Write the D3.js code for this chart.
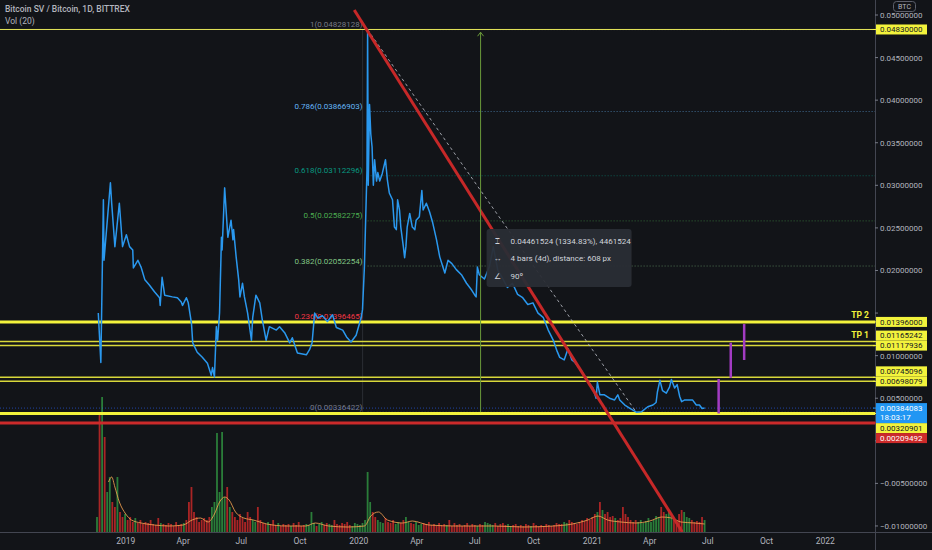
<!DOCTYPE html>
<html><head><meta charset="utf-8">
<script src="https://cdn.jsdelivr.net/npm/d3@7"></script>
<style>
html,body{margin:0;padding:0;background:#121418;}
svg{display:block;font-family:Roboto,"Liberation Sans",sans-serif;}
</style></head><body>
<svg id="c" width="932" height="550"></svg>
<script>
// ---------------- DATA ----------------
const priceDates = ["2018-11-19","2018-11-23","2018-11-27","2018-11-28","2018-12-08","2018-12-10","2018-12-15","2018-12-22","2018-12-27","2019-01-02","2019-01-07","2019-01-12","2019-01-13","2019-01-20","2019-01-25","2019-01-31","2019-02-07","2019-02-15","2019-02-23","2019-02-24","2019-02-27","2019-03-03","2019-03-15","2019-03-23","2019-03-29","2019-03-31","2019-04-06","2019-04-09","2019-04-14","2019-04-16","2019-04-23","2019-05-01","2019-05-09","2019-05-15","2019-05-17","2019-05-20","2019-05-23","2019-05-25","2019-05-28","2019-05-31","2019-06-01","2019-06-05","2019-06-10","2019-06-15","2019-06-18","2019-06-19","2019-06-23","2019-06-27","2019-06-29","2019-07-03","2019-07-06","2019-07-11","2019-07-17","2019-07-19","2019-07-24","2019-07-30","2019-08-03","2019-08-09","2019-08-14","2019-08-25","2019-08-30","2019-09-07","2019-09-15","2019-09-19","2019-09-27","2019-10-11","2019-10-16","2019-10-20","2019-10-24","2019-10-29","2019-11-05","2019-11-13","2019-11-21","2019-11-27","2019-12-07","2019-12-13","2019-12-20","2019-12-28","2020-01-05","2020-01-07","2020-01-10","2020-01-14","2020-01-15","2020-01-16","2020-01-18","2020-01-20","2020-01-22","2020-01-24","2020-01-26","2020-01-29","2020-01-31","2020-02-03","2020-02-07","2020-02-12","2020-02-15","2020-02-18","2020-02-23","2020-02-26","2020-02-29","2020-03-02","2020-03-05","2020-03-07","2020-03-11","2020-03-13","2020-03-15","2020-03-17","2020-03-21","2020-03-25","2020-03-29","2020-03-31","2020-04-05","2020-04-09","2020-04-11","2020-04-16","2020-04-21","2020-04-26","2020-05-02","2020-05-07","2020-05-12","2020-05-15","2020-05-20","2020-05-26","2020-06-02","2020-06-10","2020-06-18","2020-06-26","2020-07-01","2020-07-03","2020-07-05","2020-07-08","2020-07-16","2020-07-24","2020-07-30","2020-08-06","2020-08-14","2020-08-21","2020-08-29","2020-09-06","2020-09-14","2020-09-22","2020-09-30","2020-10-08","2020-10-16","2020-10-24","2020-11-01","2020-11-07","2020-11-11","2020-11-18","2020-11-24","2020-11-30","2020-12-05","2020-12-10","2020-12-16","2020-12-24","2021-01-02","2021-01-07","2021-01-09","2021-01-13","2021-01-20","2021-01-28","2021-02-05","2021-02-10","2021-02-13","2021-02-21","2021-03-01","2021-03-11","2021-03-19","2021-03-29","2021-04-06","2021-04-11","2021-04-13","2021-04-17","2021-04-21","2021-04-27","2021-05-02","2021-05-05","2021-05-10","2021-05-14","2021-05-18","2021-05-21","2021-05-26","2021-06-03","2021-06-07","2021-06-13","2021-06-18","2021-06-22","2021-06-26"];
const priceValues = [0.0150,0.0092,0.0283,0.0212,0.0303,0.0279,0.0228,0.0279,0.0228,0.0242,0.0228,0.0224,0.0203,0.0212,0.0204,0.0189,0.0183,0.0175,0.0168,0.0159,0.0192,0.0171,0.0169,0.0168,0.0163,0.0159,0.0168,0.0162,0.0138,0.0115,0.0104,0.0098,0.0091,0.0077,0.0086,0.0075,0.0134,0.0118,0.0150,0.0239,0.0224,0.0297,0.0239,0.0259,0.0236,0.0248,0.0216,0.0189,0.0169,0.0185,0.0169,0.0150,0.0118,0.0145,0.0171,0.0162,0.0142,0.0118,0.0134,0.0130,0.0134,0.0127,0.0115,0.0121,0.0103,0.0101,0.0107,0.0115,0.0150,0.0144,0.0147,0.0140,0.0148,0.0133,0.0130,0.0122,0.0116,0.0124,0.0145,0.0154,0.0205,0.0318,0.0483,0.0300,0.0395,0.0360,0.0345,0.0300,0.0330,0.0305,0.0315,0.0305,0.0314,0.0330,0.0306,0.0291,0.0283,0.0251,0.0248,0.0283,0.0271,0.0251,0.0228,0.0215,0.0228,0.0251,0.0267,0.0251,0.0248,0.0259,0.0263,0.0294,0.0271,0.0279,0.0269,0.0256,0.0236,0.0216,0.0204,0.0197,0.0212,0.0208,0.0201,0.0195,0.0185,0.0177,0.0171,0.0169,0.0204,0.0195,0.0190,0.0205,0.0228,0.0200,0.0190,0.0180,0.0185,0.0172,0.0168,0.0160,0.0162,0.0150,0.0145,0.0130,0.0118,0.0105,0.0098,0.0095,0.0108,0.0095,0.0092,0.0087,0.0081,0.0071,0.0062,0.0050,0.0069,0.0054,0.0054,0.0050,0.0048,0.0054,0.0048,0.0042,0.0038,0.00336,0.0034,0.0040,0.0042,0.0045,0.0057,0.0071,0.0059,0.0056,0.0063,0.0072,0.0062,0.0066,0.0052,0.0046,0.0048,0.0048,0.0048,0.0042,0.0042,0.0038,0.00384083];

// volume bars in 4-day buckets starting at volStart
const volStart = "2018-11-15";
const volStepDays = 4;
const volumes = [15,119,135,95,40,55,30,25,55,20, 15,18,12,15,10,14,9,12,8,10, 9,12,8,7,14,9,8,7,9,8, 6,10,7,8,9,12,30,45,20,15, 10,12,14,12,15,25,30,99,40,100, 35,45,25,20,15,12,18,14,10,20, 15,12,10,25,12,9,8,10,8,12, 7,9,6,8,7,8,6,9,7,10, 6,7,8,7,20,9,6,8,10,7, 9,8,7,12,8,7,9,8,10,7, 6,9,8,7,9,12,60,30,20,15, 12,10,9,14,10,9,12,8,10,9, 12,15,10,9,8,10,7,8,9,8, 10,7,8,6,9,7,8,7,12,6, 9,7,8,6,7,9,6,8,7,6, 8,7,10,9,8,7,9,6,8,9, 7,8,6,7,8,6,7,6,8,7, 6,9,7,6,7,6,8,7,6,7, 9,8,8,10,9,12,10,9,8,10, 12,11,14,12,15,18,20,30,22,18, 20,15,16,14,12,14,25,18,15,12, 10,12,10,12,9,11,14,10,12,16, 15,25,20,18,22,16,14,12,18,22, 20,15,14,12,10,11,10,15,12];
// Vol (20) moving-average line
const volMaDates = ["2018-12-05","2018-12-10","2018-12-15","2018-12-22","2019-01-01","2019-01-10","2019-01-25","2019-02-15","2019-03-10","2019-04-01","2019-04-15","2019-04-28","2019-05-10","2019-05-20","2019-05-28","2019-06-05","2019-06-12","2019-06-22","2019-07-05","2019-07-20","2019-08-10","2019-09-10","2019-10-10","2019-10-25","2019-11-15","2019-12-15","2020-01-10","2020-01-20","2020-02-01","2020-02-15","2020-03-10","2020-03-25","2020-04-20","2020-06-01","2020-08-01","2020-09-15","2020-11-01","2020-12-01","2020-12-25","2021-01-10","2021-01-25","2021-02-15","2021-03-10","2021-04-01","2021-04-20","2021-05-05","2021-05-20","2021-06-10","2021-06-26"];
const volMaValues = [50,55,45,30,18,12,9,7,6,7,12,14,10,18,30,35,32,20,14,12,8,6,6,9,6,5,6,16,20,12,9,11,7,6,6,5,6,8,12,16,12,10,9,11,15,14,10,9,8];

const lastPrice = 0.00384083;
const lastPriceTimer = "18:03:17";

const hLevels = [
  {price:0.0483, label:"0.04830000", color:"#e6e65a", width:1, kind:"y"},
  {price:0.01396, label:"0.01396000", color:"#f3f33c", width:3, kind:"y", tp:"TP 2"},
  {price:0.01165242, label:"0.01165242", color:"#d8d83a", width:1.5, kind:"y", tp:"TP 1"},
  {price:0.01117936, label:"0.01117936", color:"#d8d83a", width:1.5, kind:"y"},
  {price:0.00745096, label:"0.00745096", color:"#d8d83a", width:1.5, kind:"y"},
  {price:0.00698079, label:"0.00698079", color:"#d8d83a", width:1.5, kind:"y"},
  {price:0.00320901, label:"0.00320901", color:"#f3f33c", width:3, kind:"y"},
  {price:0.00209492, label:"0.00209492", color:"#cc2a2a", width:3, kind:"r"}
];

const fibHigh = {date:"2020-01-15", price:0.04828128};
const fibLow = {date:"2021-03-11", price:0.00336422};
const fibLevels = [0, 0.236, 0.382, 0.5, 0.618, 0.786, 1];
const fibColors = ["#787b86","#f23645","#81c784","#4caf50","#089981","#64b5f6","#787b86"];

const trendA = {date:"2019-12-30", price:0.0500};
const trendB = {date:"2021-02-09", price:0.00147};

const measure = {date:"2020-07-10", from:0.00336422, to:0.04797946};
const measureText = ["0.04461524 (1334.83%), 4461524", "4 bars (4d), distance: 608 px", "90º"];

const purpleBars = [
  {date:"2021-07-18", from:0.00320901, to:0.00726},
  {date:"2021-08-06", from:0.00740, to:0.01152},
  {date:"2021-08-27", from:0.00949, to:0.01371}
];

const yTicks = [0.05,0.045,0.04,0.035,0.03,0.025,0.02,0.015,0.01,0.005,0,-0.005,-0.01];
const title = "Bitcoin SV / Bitcoin, 1D, BITTREX";
const subtitle = "Vol (20)";

// ---------------- DRAW ----------------
const W=932, H=550, PR=875, AX=532;
const parse = d3.timeParse("%Y-%m-%d");
const x = d3.scaleTime().domain([parse("2018-06-18"), parse("2022-03-20")]).range([0, PR]);
const y = d3.scaleLinear().domain([0, 0.05]).range([440.8, 15]);
const svg = d3.select("#c");
svg.append("rect").attr("width",W).attr("height",H).attr("fill","#121418");

const chart = svg.append("g");
chart.append("defs").append("clipPath").attr("id","clip").append("rect").attr("width",PR).attr("height",AX);
const plot = chart.append("g").attr("clip-path","url(#clip)");

const prices = priceDates.map((d,i)=>({date:parse(d), v:priceValues[i]}));
const bis = d3.bisector(d=>d.date).left;
function priceAt(t){
  const i = bis(prices, t);
  if(i<=0) return prices[0].v;
  if(i>=prices.length) return prices[prices.length-1].v;
  const a=prices[i-1], b=prices[i];
  return a.v + (b.v-a.v)*((t-a.date)/(b.date-a.date));
}

// volume
const vStart = parse(volStart);
const vol = volumes.map((v,i)=>{
  const t0 = d3.timeDay.offset(vStart, i*volStepDays);
  const t1 = d3.timeDay.offset(t0, volStepDays);
  return {date:d3.timeDay.offset(t0, volStepDays/2), v, up: priceAt(t1) >= priceAt(t0)};
});
const yv = d3.scaleLinear().domain([0, 125]).range([AX, AX-125]);
plot.append("g").selectAll("rect").data(vol).join("rect")
  .attr("x", d=>x(d.date)-0.9).attr("width",1.8)
  .attr("y", d=>yv(d.v)).attr("height", d=>AX-yv(d.v))
  .attr("fill", d=>d.up ? "#2f8f3f" : "#c62828").attr("opacity",0.85);
const ma = volMaDates.map((d,i)=>({date:parse(d), v:volMaValues[i]}));
plot.append("path").datum(ma).attr("fill","none").attr("stroke","#f0a050").attr("stroke-width",1).attr("opacity",0.85)
  .attr("d", d3.line().curve(d3.curveMonotoneX).x(d=>x(d.date)).y(d=>yv(d.v)));

// fib retracement
const fx = x(parse(fibHigh.date));
fibLevels.forEach((lv,i)=>{
  const p = fibLow.price + (fibHigh.price-fibLow.price)*lv;
  plot.append("line").attr("x1",fx).attr("x2",PR).attr("y1",y(p)).attr("y2",y(p))
    .attr("stroke",fibColors[i]).attr("stroke-opacity",0.55).attr("stroke-width",1).attr("stroke-dasharray","1,2");
  plot.append("text").attr("x",fx-5).attr("y",y(p)-2.5).attr("text-anchor","end")
    .attr("font-size",8).attr("fill",fibColors[i]).text(lv+"("+p.toFixed(8)+")");
});
plot.append("line").attr("x1",fx-5).attr("x2",fx-5).attr("y1",y(fibHigh.price)).attr("y2",y(fibLow.price))
  .attr("stroke","#787b86").attr("stroke-opacity",0.25);

// last price dotted line
plot.append("line").attr("x1",0).attr("x2",PR).attr("y1",y(lastPrice)).attr("y2",y(lastPrice))
  .attr("stroke","#2962ff").attr("stroke-opacity",0.6).attr("stroke-dasharray","1,2");

// horizontal levels
hLevels.forEach(h=>{
  plot.append("line").attr("x1",0).attr("x2",PR).attr("y1",y(h.price)).attr("y2",y(h.price))
    .attr("stroke",h.color).attr("stroke-width",h.width);
  if(h.tp) plot.append("text").attr("x",PR-6).attr("y",y(h.price)-3.5).attr("text-anchor","end")
    .attr("font-size",8.5).attr("font-weight","bold").attr("fill","#f3f33c").text(h.tp);
});

// dashed fib trend line
plot.append("line").attr("x1",fx).attr("y1",y(fibHigh.price)).attr("x2",x(parse(fibLow.date))).attr("y2",y(fibLow.price))
  .attr("stroke","#c0c3cc").attr("stroke-width",1).attr("stroke-dasharray","3,3").attr("opacity",0.8);

// price line
plot.append("path").datum(prices).attr("fill","none").attr("stroke","#2a98ee").attr("stroke-width",1.5)
  .attr("stroke-linejoin","round").attr("d", d3.line().x(d=>x(d.date)).y(d=>y(d.v)));

// red trendline (extended)
{
  const ax=x(parse(trendA.date)), ay=y(trendA.price), bx=x(parse(trendB.date)), by=y(trendB.price);
  const k=(by-ay)/(bx-ax);
  const y0 = 10, y1 = AX;
  plot.append("line").attr("x1", ax+(y0-ay)/k).attr("y1",y0).attr("x2", ax+(y1-ay)/k).attr("y2",y1)
    .attr("stroke","#c62828").attr("stroke-width",3);
}

// purple bars
plot.selectAll(".pb").data(purpleBars).join("line")
  .attr("x1",d=>x(parse(d.date))).attr("x2",d=>x(parse(d.date)))
  .attr("y1",d=>y(d.from)).attr("y2",d=>y(d.to)).attr("stroke","#a23bc2").attr("stroke-width",2.5);

// measure arrow
{
  const mx = x(parse(measure.date)), my0=y(measure.from), my1=y(measure.to);
  plot.append("line").attr("x1",mx).attr("x2",mx).attr("y1",my0).attr("y2",my1).attr("stroke","#6a9a3a").attr("stroke-width",1);
  plot.append("path").attr("d",`M${mx-3},${my1+4}L${mx},${my1}L${mx+3},${my1+4}`).attr("fill","none").attr("stroke","#6a9a3a");
  const bx = mx+6, by = 229;
  plot.append("rect").attr("x",bx).attr("y",by).attr("width",145).attr("height",58).attr("rx",3)
    .attr("fill","#2a2d35").attr("opacity",0.95);
  const icons = ["⌶","↔","∠"];
  measureText.forEach((t,i)=>{
    plot.append("text").attr("x",bx+11).attr("y",by+14.5+i*17.5).attr("font-size",8).attr("fill","#d1d4dc")
      .attr("text-anchor","middle").text(icons[i]);
    plot.append("text").attr("x",bx+24).attr("y",by+14.5+i*17.5).attr("font-size",8).attr("fill","#d1d4dc").text(t);
  });
}

// axes lines
svg.append("line").attr("x1",0).attr("x2",W).attr("y1",AX+0.5).attr("y2",AX+0.5).attr("stroke","#434651");
svg.append("line").attr("x1",PR+0.5).attr("x2",PR+0.5).attr("y1",0).attr("y2",H).attr("stroke","#434651");

// time axis
const tTicks = d3.timeMonth.every(3).range(parse("2019-01-01"), x.domain()[1]);
const fmtM = d3.timeFormat("%b"), fmtY = d3.timeFormat("%Y");
svg.append("g").selectAll("text").data(tTicks.filter(t=>x(t)<PR-10)).join("text")
  .attr("x",d=>x(d)).attr("y",544).attr("text-anchor","middle").attr("font-size",8.5).attr("fill","#b2b5be")
  .text(d=>d.getMonth()===0 ? fmtY(d) : fmtM(d));

// price labels with collision layout (anchored on last price)
const fmtP = v => (v<0?"\u2212":"") + Math.abs(v).toFixed(8);
const labels = hLevels.map(h=>({y:y(h.price), h:10, off:5, text:[h.label], bg:h.kind==="r"?"#cc2a2a":"#f3f33c", fg:h.kind==="r"?"#ffffff":"#131722"}));
const anchor = {y:y(lastPrice), h:20, off:5, text:[fmtP(lastPrice), lastPriceTimer], bg:"#2196f3", fg:"#ffffff"};
anchor.top = anchor.y-anchor.off;
const below = labels.filter(l=>l.y>=anchor.y).sort((a,b)=>a.y-b.y);
const above = labels.filter(l=>l.y<anchor.y).sort((a,b)=>b.y-a.y);
let prevB = anchor.top+anchor.h;
below.forEach(l=>{ l.top = Math.max(l.y-l.off, prevB); prevB = l.top+l.h; });
let prevT = anchor.top;
above.forEach(l=>{ const b = Math.min(l.y-l.off+l.h, prevT); l.top = b-l.h; prevT = l.top; });
const boxes = [...labels, anchor];

// price axis ticks (hidden where a label box covers them)
const ya = svg.append("g");
yTicks.forEach(v=>{
  const ty = y(v);
  const covered = boxes.some(b => ty+4 > b.top && ty-4 < b.top+b.h);
  ya.append("line").attr("x1",PR).attr("x2",PR+3).attr("y1",ty).attr("y2",ty).attr("stroke","#787b86");
  if(!covered) ya.append("text").attr("x",880).attr("y",ty+3).attr("font-size",8).attr("fill","#b2b5be").text(fmtP(v));
});

boxes.forEach(l=>{
  ya.append("rect").attr("x",PR+1).attr("y",l.top).attr("width",51).attr("height",l.h).attr("fill",l.bg);
  l.text.forEach((t,i)=>{
    ya.append("text").attr("x",880).attr("y",l.top+7.8+i*9.5).attr("font-size",8).attr("fill",l.fg).text(t);
  });
  ya.append("line").attr("x1",PR-2).attr("x2",PR+1).attr("y1",l.y).attr("y2",l.y).attr("stroke",l.bg);
});

// BTC badge
svg.append("rect").attr("x",893.5).attr("y",1.5).attr("width",22).attr("height",10).attr("rx",3)
  .attr("fill","#121418").attr("stroke","#5d606b");
svg.append("text").attr("x",904.5).attr("y",9.3).attr("text-anchor","middle").attr("font-size",7).attr("fill","#b2b5be").text("BTC");

// title
svg.append("text").attr("x",5).attr("y",12).attr("font-size",8.5).attr("font-weight",500).attr("fill","#b2b5be").text(title);
svg.append("text").attr("x",5).attr("y",24).attr("font-size",8.5).attr("fill","#b2b5be").text(subtitle);
</script>
</body></html>
